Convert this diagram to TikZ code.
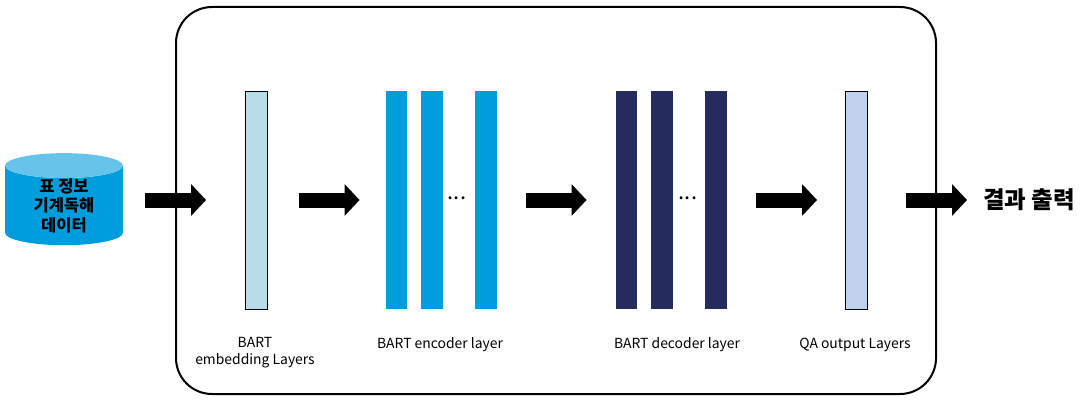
\documentclass[tikz,border=0pt]{standalone}
\usepackage{fontspec}
\setmainfont{Noto Sans CJK KR}
\usetikzlibrary{positioning,arrows.meta,shapes,shapes.geometric}
\definecolor{barlight}{HTML}{B7DDE8}
\definecolor{barenc}{HTML}{009DDC}
\definecolor{bardec}{HTML}{262B5E}
\definecolor{barqa}{HTML}{C0D2EE}
\definecolor{cyltop}{HTML}{66C4EA}
\begin{document}
\begin{tikzpicture}[x=1pt,y=-1pt,node distance=13.5pt,
 bar/.style={inner sep=0pt,minimum width=21.5pt,minimum height=218pt},
 lay/.style={font=\fontsize{13.9}{17}\selectfont,align=center,inner sep=0pt},
 blockarrow/.style={line width=15pt,-{Triangle[length=15pt,width=31pt]}}]
\useasboundingbox (0,0) rectangle (1083,412);
\node[draw=black,line width=2pt,rounded corners=36pt,minimum width=760pt,minimum height=387pt,inner sep=0pt] (frame) at (556,200.5) {};
\node[cylinder,shape border rotate=90,aspect=0.41,cylinder uses custom fill,cylinder body fill=barenc,cylinder end fill=cyltop,minimum width=118pt,minimum height=85pt,inner sep=0pt,align=center,font=\fontsize{16.5}{19.5}\selectfont\bfseries] (db) at (64,205.5) {표 정보\\기계독해\\데이터};
\node[bar,draw=black,fill=barlight] (emb) at (256,200) {};
\node[bar,fill=barenc] (enca) at (396.5,200) {};
\node[bar,fill=barenc,right=of enca] (encb) {};
\node[bar,fill=barenc,right=32pt of encb] (encc) {};
\node[inner sep=0pt,font=\fontsize{22}{22}\selectfont] (encdots) at (457,198) {...};
\node[bar,fill=bardec] (deca) at (626.5,200) {};
\node[bar,fill=bardec,right=of deca] (decb) {};
\node[bar,fill=bardec,right=32pt of decb] (decc) {};
\node[inner sep=0pt,font=\fontsize{22}{22}\selectfont] (decdots) at (688,198) {...};
\node[bar,draw=black,fill=barqa] (qa) at (856,200) {};
\node[lay] (embl) at (255,353) {BART\\embedding Layers};
\node[lay] (encl) at (440,345) {BART encoder layer};
\node[lay] (decl) at (677,345) {BART decoder layer};
\node[lay] (qal) at (855,345) {QA output Layers};
\node[inner sep=0pt,anchor=west,font=\fontsize{23.5}{24}\selectfont\bfseries] (out) at (983,200) {결과 출력};
\draw[blockarrow,shorten <=22pt,shorten >=39pt] (db.east |- emb) -- (emb.west);
\draw[blockarrow,shorten <=32pt,shorten >=26pt] (emb) -- (enca);
\draw[blockarrow,shorten <=29.5pt,shorten >=29pt] (encc) -- (deca);
\draw[blockarrow,shorten <=29.5pt,shorten >=28pt] (decc) -- (qa);
\draw[blockarrow,shorten <=39pt,shorten >=16pt] (qa) -- (out);
\end{tikzpicture}
\end{document}
